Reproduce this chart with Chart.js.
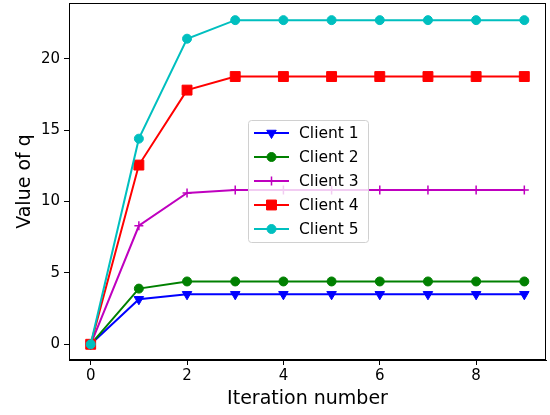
<!DOCTYPE html>
<html>
<head>
<meta charset="utf-8">
<script src="https://cdn.jsdelivr.net/npm/chart.js@4.4.1/dist/chart.umd.min.js"></script>
<style>
  html, body { margin: 0; padding: 0; background: #fff; }
  #wrap { width: 550px; height: 415px; }
</style>
</head>
<body>
<div id="wrap"><canvas id="chart" width="550" height="415"></canvas></div>
<script>
// données
const iterations = [0, 1, 2, 3, 4, 5, 6, 7, 8, 9];
const client1 = [0, 3.15, 3.5, 3.5, 3.5, 3.5, 3.5, 3.5, 3.5, 3.5];
const client2 = [0, 3.9, 4.4, 4.4, 4.4, 4.4, 4.4, 4.4, 4.4, 4.4];
const client3 = [0, 8.3, 10.6, 10.8, 10.8, 10.8, 10.8, 10.8, 10.8, 10.8];
const client4 = [0, 12.55, 17.8, 18.75, 18.75, 18.75, 18.75, 18.75, 18.75, 18.75];
const client5 = [0, 14.4, 21.4, 22.7, 22.7, 22.7, 22.7, 22.7, 22.7, 22.7];
const seriesNames = ['Client 1', 'Client 2', 'Client 3', 'Client 4', 'Client 5'];
const xTicks = [0, 2, 4, 6, 8];
const yTicks = [0, 5, 10, 15, 20];

const font = "'DejaVu Sans', sans-serif";

const toPoints = values => values.map((v, i) => ({ x: iterations[i], y: v }));

// order : la dernière série est dessinée au-dessus, comme matplotlib
const makeDataset = (label, values, color, style, radius, order, rotation) => ({
    label,
    data: toPoints(values),
    order,
    borderColor: color,
    backgroundColor: color,
    borderWidth: 2,
    pointStyle: style,
    pointRadius: radius,
    pointRotation: rotation || 0,
    pointBorderWidth: style === 'cross' ? 1.5 : 1,
    pointBackgroundColor: color,
    pointBorderColor: color,
    tension: 0
});

// cadre complet + légende façon matplotlib
const framePlugin = {
    id: 'frame',
    afterDraw(chart) {
        const { ctx, chartArea: a } = chart;
        ctx.save();
        ctx.strokeStyle = '#000';
        ctx.lineWidth = 1;
        ctx.strokeRect(a.left + 0.5, a.top + 0.5, a.right - a.left - 1, a.bottom - a.top - 1);

        // légende
        const bx = 248, by = 120, bw = 120, bh = 122;
        ctx.fillStyle = 'rgba(255,255,255,0.8)';
        ctx.strokeStyle = '#d0d0d0';
        ctx.beginPath();
        ctx.roundRect(bx + 0.5, by + 0.5, bw, bh, 3);
        ctx.fill();
        ctx.stroke();

        chart.data.datasets.forEach((ds, i) => {
            const yy = by + 13 + i * 24;
            ctx.strokeStyle = ds.borderColor;
            ctx.lineWidth = ds.borderWidth;
            ctx.beginPath();
            ctx.moveTo(bx + 6, yy);
            ctx.lineTo(bx + 41, yy);
            ctx.stroke();
            ctx.fillStyle = ds.backgroundColor;
            ctx.lineWidth = ds.pointBorderWidth;
            Chart.helpers.drawPoint(ctx, {
                pointStyle: ds.pointStyle,
                radius: ds.pointRadius,
                rotation: ds.pointRotation,
                borderWidth: ds.pointBorderWidth
            }, bx + 23.5, yy);
            ctx.fillStyle = '#000';
            ctx.font = '15.5px ' + font;
            ctx.textBaseline = 'middle';
            ctx.textAlign = 'left';
            ctx.fillText(ds.label, bx + 51, yy + 1);
        });
        ctx.restore();
    }
};

new Chart(document.getElementById('chart'), {
    type: 'line',
    data: {
        datasets: [
            makeDataset(seriesNames[0], client1, '#0000ff', 'triangle', 5.5, 5, 180),
            makeDataset(seriesNames[1], client2, '#008000', 'circle', 4.5, 4),
            makeDataset(seriesNames[2], client3, '#bf00bf', 'cross', 4.5, 3),
            makeDataset(seriesNames[3], client4, '#ff0000', 'rect', 7, 2),
            makeDataset(seriesNames[4], client5, '#00bfbf', 'circle', 4.5, 1)
        ]
    },
    options: {
        responsive: false,
        animation: false,
        layout: { autoPadding: false, padding: { top: 3, right: 4, left: 0, bottom: 0 } },
        plugins: {
            legend: { display: false },
            tooltip: { enabled: false }
        },
        scales: {
            x: {
                type: 'linear',
                min: -0.45,
                max: 9.45,
                afterBuildTicks: s => { s.ticks = xTicks.map(v => ({ value: v })); },
                afterFit: s => { s.height = 55; s.paddingLeft = 0; s.paddingRight = 0; },
                grid: { drawOnChartArea: false, drawTicks: true, tickLength: 5, color: '#000' },
                border: { display: true, color: '#000' },
                ticks: { color: '#000', font: { family: font, size: 15 }, padding: 2, maxRotation: 0 },
                title: { display: true, text: 'Iteration number', color: '#000', font: { family: font, size: 19 }, padding: { top: 0, bottom: 5 } }
            },
            y: {
                min: -1.1,
                max: 23.9,
                afterBuildTicks: s => { s.ticks = yTicks.map(v => ({ value: v })); },
                afterFit: s => { s.width = 69; s.paddingTop = 0; s.paddingBottom = 0; },
                grid: { drawOnChartArea: false, drawTicks: true, tickLength: 5, color: '#000' },
                border: { display: true, color: '#000' },
                ticks: { color: '#000', font: { family: font, size: 15 }, padding: 4 },
                title: { display: true, text: 'Value of q', color: '#000', font: { family: font, size: 19 }, padding: { top: 14, bottom: 6 } }
            }
        }
    },
    plugins: [framePlugin]
});
</script>
</body>
</html>
